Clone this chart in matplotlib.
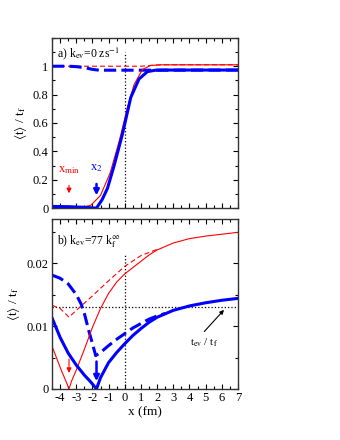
import numpy as np
import matplotlib
matplotlib.use("Agg")
import matplotlib.pyplot as plt
from matplotlib.ticker import MultipleLocator, FixedLocator, FuncFormatter

plt.rcParams['font.family'] = ['Liberation Serif', 'DejaVu Serif']
plt.rcParams['mathtext.fontset'] = 'stix'
plt.rcParams['font.size'] = 9

RED = '#ff0000'
BLUE = '#0000ff'

# panel a) k_ev = 0
xa_red = [-4.5, -3.5, -3.0, -2.5, -2.1, -1.5, -0.9, -0.35, 0.16, 0.57, 1.09, 1.6, 2.2, 3.0, 7.0]
ya_red = [0.0, 0.001, 0.004, 0.01, 0.02, 0.09, 0.25, 0.47, 0.705, 0.87, 0.977, 1.005, 1.01, 1.01, 1.01]
xa_red_d = [-4.5, -2.0, 0.0, 1.0, 1.4, 1.8, 2.5, 7.0]
ya_red_d = [1.0, 1.0, 1.0, 1.0, 1.003, 1.008, 1.01, 1.01]
xa_blue = [-4.5, -3.5, -2.5, -1.75, -1.4, -1.07, -0.66, -0.15, 0.37, 0.88, 1.4, 1.9, 2.5, 7.0]
ya_blue = [0.012, 0.01, 0.006, 0.0, 0.06, 0.14, 0.30, 0.52, 0.78, 0.91, 0.962, 0.972, 0.973, 0.973]
xa_blue_d = [-4.5, -3.5, -3.0, -2.5, -2.0, -1.6, 0.0, 1.5, 7.0]
ya_blue_d = [1.0, 1.0, 0.997, 0.99, 0.978, 0.972, 0.972, 0.972, 0.973]

# panel b) k_ev = 77 k_f
xb_red = [-4.5, -4.2, -3.9, -3.6, -3.45, -3.3, -3.0, -2.5, -2.0, -1.5, -1.0, -0.5, 0.0, 0.5,
          1.0, 1.5, 2.0, 3.0, 4.0, 5.0, 6.0, 7.0]
yb_red = [0.0068, 0.0048, 0.0028, 0.001, 0.0, 0.0012, 0.003, 0.0063, 0.0098, 0.0128, 0.0152,
          0.017, 0.0183, 0.0193, 0.0203, 0.0213, 0.0221, 0.0232, 0.0239, 0.0243, 0.0246, 0.0249]
xb_red_d = [-4.5, -4.0, -3.6, -3.45, -3.0, -2.0, -1.0, 0.0, 1.0, 2.0]
yb_red_d = [0.0133, 0.0128, 0.0118, 0.0114, 0.0125, 0.0148, 0.0172, 0.0195, 0.0212, 0.0222]
xb_blue = [-4.5, -4.0, -3.5, -3.0, -2.5, -2.1, -1.75, -1.5, -1.0, -0.5, 0.0, 0.5, 1.0, 1.5,
           2.0, 3.0, 4.0, 5.0, 6.0, 7.0]
yb_blue = [0.0113, 0.0082, 0.0057, 0.0038, 0.0022, 0.0011, 0.0, 0.0018, 0.0042, 0.0058, 0.0072,
           0.0085, 0.0096, 0.0106, 0.0114, 0.0125, 0.0132, 0.0137, 0.0141, 0.0144]
xb_blue_d = [-4.5, -4.0, -3.5, -3.0, -2.7, -2.5, -2.2, -2.0, -1.8, -1.5, -1.0, -0.5, 0.0, 0.5,
             1.0, 1.5, 2.0, 2.5]
yb_blue_d = [0.0181, 0.0176, 0.0167, 0.015, 0.0135, 0.012, 0.009, 0.0072, 0.0053, 0.0058,
             0.0069, 0.0079, 0.0088, 0.0097, 0.0104, 0.0111, 0.0116, 0.012]

ya_ticks = [0, 0.2, 0.4, 0.6, 0.8, 1.0]
x_min = -3.45
x_2 = -1.75
t_ev = 0.013


def style(ax):
    ax.set_xlim(-4.5, 7)
    ax.xaxis.set_major_locator(MultipleLocator(1))
    ax.xaxis.set_minor_locator(MultipleLocator(0.5))
    ax.tick_params(which='both', direction='in', top=True, right=True, width=0.8, labelsize=9, pad=2.5)
    ax.tick_params(which='major', length=3.5)
    ax.tick_params(which='minor', length=2)
    for s in ax.spines.values():
        s.set_linewidth(1.0)
        s.set_color('#333333')


fig = plt.figure(figsize=(3.4, 4.4), dpi=100)
ax1 = fig.add_axes([0.153, 0.527, 0.547, 0.387])
ax2 = fig.add_axes([0.153, 0.116, 0.547, 0.386])

# ---- a)
style(ax1)
ax1.set_ylim(0, 1.2)
ax1.yaxis.set_major_locator(FixedLocator(ya_ticks))
ax1.yaxis.set_minor_locator(MultipleLocator(0.1))
ax1.yaxis.set_major_formatter(FuncFormatter(lambda v, p: '%g' % round(v, 3)))
ax1.set_xticklabels([])
ax1.plot([0, 0], [0, 1.1], color='k', ls=':', lw=0.9)
ax1.plot(xa_red_d, ya_red_d, color=RED, lw=0.8, dashes=(4.5, 2.7))
ax1.plot(xa_blue_d, ya_blue_d, color=BLUE, lw=2.2, dashes=(4, 1.7))
ax1.plot(xa_red, ya_red, color=RED, lw=0.8)
ax1.plot(xa_blue, ya_blue, color=BLUE, lw=2.2)
ax1.annotate('', xy=(x_min, 0.085), xytext=(x_min, 0.18),
             arrowprops=dict(arrowstyle='-|>', color=RED, lw=0.8, mutation_scale=7))
ax1.annotate('', xy=(x_2, 0.07), xytext=(x_2, 0.19),
             arrowprops=dict(arrowstyle='-|>', color=BLUE, lw=1.8, mutation_scale=8))
ax1.text(x_min, 0.27, r'x$_{\rm min}$', color=RED, ha='center', va='center', fontsize=9)
ax1.text(x_2, 0.28, r'x$_2$', color=BLUE, ha='center', va='center', fontsize=9)
ax1.text(-4.2, 1.09, r'a) k$_{\rm ev}$=0 zs$^{-1}$', ha='left', va='center', fontsize=8.5)
ax1.set_ylabel(r'$\langle$t$\rangle$ / t$_{\rm f}$', fontsize=9.5, labelpad=3)

# ---- b)
style(ax2)
ax2.set_ylim(0, 0.027)
ax2.yaxis.set_major_locator(MultipleLocator(0.01))
ax2.yaxis.set_minor_locator(MultipleLocator(0.005))
ax2.yaxis.set_major_formatter(FuncFormatter(lambda v, p: '%g' % round(v, 4)))
ax2.xaxis.set_major_formatter(FuncFormatter(lambda v, p: '%d' % round(v)))
ax2.plot([0, 0], [0, 0.0215], color='k', ls=':', lw=0.9)
ax2.axhline(t_ev, color='k', ls=':', lw=0.9)
ax2.plot(xb_red_d, yb_red_d, color=RED, lw=0.8, dashes=(4.5, 2.7))
ax2.plot(xb_blue_d, yb_blue_d, color=BLUE, lw=2.2, dashes=(4, 1.7))
ax2.plot(xb_red, yb_red, color=RED, lw=0.8)
ax2.plot(xb_blue, yb_blue, color=BLUE, lw=2.2)
ax2.annotate('', xy=(x_min, 0.0021), xytext=(x_min, 0.0052),
             arrowprops=dict(arrowstyle='-|>', color=RED, lw=0.8, mutation_scale=7))
ax2.annotate('', xy=(x_2, 0.0008), xytext=(x_2, 0.0048),
             arrowprops=dict(arrowstyle='-|>', color=BLUE, lw=1.8, mutation_scale=8))
ax2.annotate('', xy=(6.25, 0.0129), xytext=(4.8, 0.0088),
             arrowprops=dict(arrowstyle='-|>', color='k', lw=0.8, mutation_scale=6))
ax2.text(4.9, 0.0073, r't$_{\rm ev}$ / t$_{\rm f}$', ha='center', va='center', fontsize=8)
ax2.text(-4.2, 0.0235, r'b) k$_{\rm ev}$=77 k$_{\rm f}^{\infty}$', ha='left', va='center', fontsize=8.5)
ax2.set_ylabel(r'$\langle$t$\rangle$ / t$_{\rm f}$', fontsize=9.5, labelpad=3)
ax2.set_xlabel('x (fm)', fontsize=9.5, labelpad=1)

fig.savefig('out.png', dpi=100)
